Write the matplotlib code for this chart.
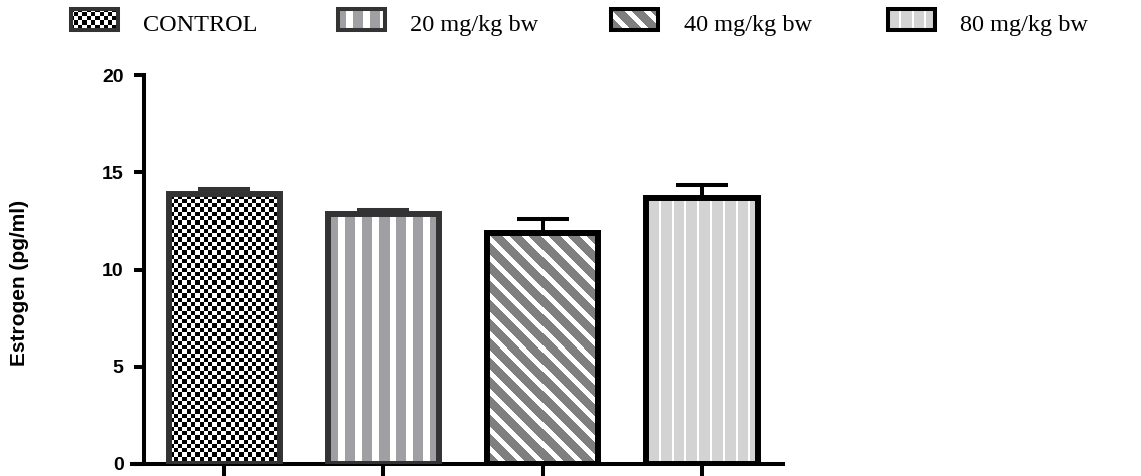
import numpy as np
import matplotlib
matplotlib.use("Agg")
import matplotlib.pyplot as plt
from matplotlib.patches import Rectangle

# data
groups = ["CONTROL", "20 mg/kg bw", "40 mg/kg bw", "80 mg/kg bw"]
means = [13.9, 12.85, 11.9, 13.7]
errs = [0.25, 0.2, 0.7, 0.65]
yticks = [0, 5, 10, 15, 20]
ylabel = "Estrogen (pg/ml)"

fills = ["checker", "vstripe", "diag", "light"]
edges = ["#333333", "#333333", "black", "black"]

W, H = 1141, 476


def texture(kind, w, h):
    # pattern built in screen pixels
    jj, ii = np.meshgrid(np.arange(w), np.arange(h))
    img = np.ones((h, w, 3))
    if kind == "checker":
        m = ((ii // 4.3).astype(int) + (jj // 4.3).astype(int)) % 2 == 0
        img[m] = 0.0
    elif kind == "vstripe":
        m = (jj % 16.7) < 10
        img[m] = (0.63, 0.63, 0.645)
    elif kind == "diag":
        m = ((jj - ii) % 19) < 12
        img[m] = 0.5
    elif kind == "light":
        img[:] = 0.83
        m = (jj % 12.6) < 2
        img[m] = 1.0
    return img


fig = plt.figure(figsize=(W / 100, H / 100), dpi=100)
ax = fig.add_axes([131.7 / W, (H - 463.7) / H, (783 - 131.7) / W, (463.7 - 75.3) / H])

x = np.arange(len(groups))
xlim = (-0.582, 3.51)
ylim = (0, 20)
ax.set_xlim(*xlim)
ax.set_ylim(*ylim)

bars = ax.bar(x, means, width=0.7, fill=False, zorder=3)
for b, kind, ec in zip(bars, fills, edges):
    b.set_edgecolor(ec)
    b.set_linewidth(4.3)
    x0, w, h = b.get_x(), b.get_width(), b.get_height()
    (px0, py0), (px1, py1) = ax.transData.transform([(x0, 0), (x0 + w, h)])
    tex = texture(kind, int(round(px1 - px0)), int(round(py1 - py0)))
    ax.imshow(tex, extent=(x0, x0 + w, 0, h), origin="upper", aspect="auto",
              interpolation="nearest", zorder=2)

for xi, m, e, ec in zip(x, means, errs, edges):
    ax.errorbar(xi, m, yerr=[[0], [e]], fmt="none", ecolor=ec, elinewidth=2.9,
                capsize=19, capthick=2.9, zorder=1.5)

ax.set_xlim(*xlim)
ax.set_ylim(*ylim)

for s in ["top", "right"]:
    ax.spines[s].set_visible(False)
ax.spines["left"].set_position(("data", -0.506))
ax.spines["left"].set_linewidth(2.9)
ax.spines["bottom"].set_linewidth(2.9)
ax.spines["left"].set_capstyle("projecting")

ax.set_yticks(yticks)
ax.set_yticklabels([str(t) for t in yticks], fontsize=14, fontweight="bold",
                   family="Liberation Sans")
ax.set_xticks(x)
ax.set_xticklabels([""] * len(x))
ax.tick_params(axis="y", length=7.5, width=2.9, pad=7)
ax.tick_params(axis="x", length=10, width=2.9)

fig.text(20 / W, (H - 282.5) / H, ylabel, rotation=90, ha="center", va="center",
         fontsize=15, fontweight="bold", family="Liberation Sans")

# legend drawn by hand on an overlay in pixel coordinates
lax = fig.add_axes([0, 0, 1, 1], zorder=5)
lax.set_xlim(0, W)
lax.set_ylim(H, 0)
lax.axis("off")
lax.patch.set_alpha(0)

patch_x = [69, 336, 609, 886]
text_x = [143, 410, 684, 960]
for px, tx, kind, ec, lab in zip(patch_x, text_x, fills, edges, groups):
    pw, ph = 51, 25
    lax.imshow(texture(kind, pw, ph), extent=(px, px + pw, 7 + ph, 7), origin="upper",
               aspect="auto", interpolation="nearest", zorder=1)
    lax.add_patch(Rectangle((px + 2, 9), pw - 4, ph - 4, fill=False, edgecolor=ec,
                            linewidth=2.9, zorder=2))
    lax.text(tx, 31, lab, fontsize=17.5, family="Liberation Serif", va="baseline",
             ha="left")
lax.set_xlim(0, W)
lax.set_ylim(H, 0)

fig.savefig("out.png", dpi=100)
